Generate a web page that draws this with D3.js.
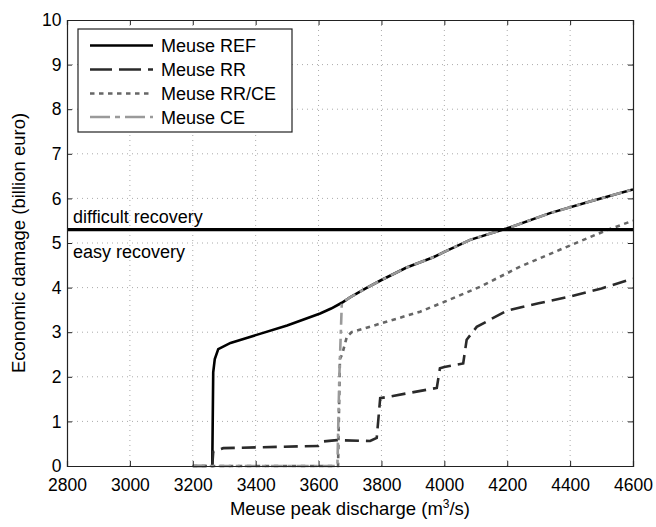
<!DOCTYPE html>
<html>
<head>
<meta charset="utf-8">
<script src="https://cdn.jsdelivr.net/npm/d3@7"></script>
<style>
  body { margin: 0; background: #fff; }
  svg { display: block; font-family: "Liberation Sans", Arial, sans-serif; }
</style>
</head>
<body>
<svg id="chart" width="656" height="527"></svg>
<script>
// Meuse damage curves.
const xTicks = [2800, 3000, 3200, 3400, 3600, 3800, 4000, 4200, 4400, 4600];
const yTicks = [0, 1, 2, 3, 4, 5, 6, 7, 8, 9, 10];

// shared upper branch of REF and CE (they coincide past ~3675)
const upperQ = [3674, 3700, 3750, 3800, 3880, 3965, 4000, 4082, 4200, 4336, 4463, 4600];
const upperD = [3.66, 3.78, 3.98, 4.17, 4.45, 4.68, 4.80, 5.07, 5.33, 5.67, 5.93, 6.2];

const refQ = [3259, 3262, 3265, 3270, 3281, 3320, 3403, 3500, 3605, 3640];
const refD = [0, 0, 2.1, 2.4, 2.62, 2.76, 2.94, 3.15, 3.42, 3.53];

const rrQ = [3200, 3262, 3265, 3297, 3599, 3614, 3658, 3764, 3785, 3796, 3820, 3976, 3986, 4000, 4060, 4071, 4103, 4198, 4300, 4400, 4500, 4600];
const rrD = [0, 0, 0.32, 0.40, 0.45, 0.55, 0.58, 0.56, 0.63, 1.52, 1.55, 1.75, 2.19, 2.22, 2.3, 2.83, 3.12, 3.48, 3.65, 3.8, 3.98, 4.2];

const rrceQ = [3200, 3662, 3668, 3675, 3690, 3705, 3800, 3923, 4000, 4114, 4241, 4378, 4517, 4600];
const rrceD = [0, 0, 2.4, 2.5, 2.9, 3.0, 3.2, 3.46, 3.68, 4.02, 4.47, 4.88, 5.29, 5.5];

const ceQ = [3200, 3660, 3666, 3674];
const ceD = [0, 0, 2.0, 3.66];

const recoveryLevel = 5.3;

const series = [
  { name: "Meuse REF", q: refQ.concat(upperQ), d: refD.concat(upperD), color: "#000", dash: null, width: 2.6 },
  { name: "Meuse RR", q: rrQ, d: rrD, color: "#2a2a2a", dash: "14,7", width: 2.6 },
  { name: "Meuse RR/CE", q: rrceQ, d: rrceD, color: "#666", dash: "4.5,4.5", width: 2.6 },
  { name: "Meuse CE", q: ceQ.concat(upperQ.slice(1)), d: ceD.concat(upperD.slice(1)), color: "#9a9a9a", dash: "12,5,4,5", width: 2.6 },
];

const svg = d3.select("#chart");
const margin = { left: 67, top: 20, right: 23, bottom: 61 };
const W = 656, H = 527;

const x = d3.scaleLinear().domain([2800, 4600]).range([margin.left, W - margin.right]);
const y = d3.scaleLinear().domain([0, 10]).range([H - margin.bottom, margin.top]);

// grid
const grid = svg.append("g").attr("stroke", "#aaa").attr("stroke-width", 1).attr("stroke-dasharray", "1,4");
grid.selectAll(".gx").data(xTicks.slice(1, -1)).join("line")
  .attr("x1", (d) => x(d)).attr("x2", (d) => x(d))
  .attr("y1", y(0)).attr("y2", y(10));
grid.selectAll(".gy").data(yTicks.slice(1, -1)).join("line")
  .attr("x1", x(2800)).attr("x2", x(4600))
  .attr("y1", (d) => y(d)).attr("y2", (d) => y(d));

// curves
const line = d3.line().x((p) => x(p[0])).y((p) => y(p[1]));
svg.append("clipPath").attr("id", "clip").append("rect")
  .attr("x", x(2800)).attr("y", y(10)).attr("width", x(4600) - x(2800)).attr("height", y(0) - y(10) + 2);

svg.append("g").attr("clip-path", "url(#clip)")
  .selectAll("path").data(series).join("path")
  .attr("fill", "none")
  .attr("stroke", (s) => s.color)
  .attr("stroke-width", (s) => s.width)
  .attr("stroke-dasharray", (s) => s.dash)
  .attr("d", (s) => line(s.q.map((q, i) => [q, s.d[i]])));

// recovery threshold
svg.append("line")
  .attr("x1", x(2800)).attr("x2", x(4600))
  .attr("y1", y(recoveryLevel)).attr("y2", y(recoveryLevel))
  .attr("stroke", "#000").attr("stroke-width", 3.2);

svg.append("text").attr("x", x(2800) + 6).attr("y", y(recoveryLevel) - 7)
  .attr("font-size", 18).text("difficult recovery");
svg.append("text").attr("x", x(2800) + 6).attr("y", y(recoveryLevel) + 28)
  .attr("font-size", 18).text("easy recovery");

// axes: matlab style box with inward ticks
const axisCol = "#222";
const tickLen = 5;
const xAxis = svg.append("g").attr("transform", `translate(0,${y(0)})`)
  .call(d3.axisBottom(x).tickValues(xTicks).tickSize(-tickLen).tickPadding(12.5).tickFormat(d3.format("d")));
const xTop = svg.append("g").attr("transform", `translate(0,${y(10)})`)
  .call(d3.axisTop(x).tickValues(xTicks).tickSize(-tickLen).tickFormat(""));
const yAxis = svg.append("g").attr("transform", `translate(${x(2800)},0)`)
  .call(d3.axisLeft(y).tickValues(yTicks).tickSize(-tickLen).tickPadding(5.5).tickFormat(d3.format("d")));
const yRight = svg.append("g").attr("transform", `translate(${x(4600)},0)`)
  .call(d3.axisRight(y).tickValues(yTicks).tickSize(-tickLen).tickFormat(""));

[xAxis, xTop, yAxis, yRight].forEach((g) => {
  g.select(".domain").attr("stroke", axisCol).attr("stroke-width", 1.2);
  g.selectAll(".tick line").attr("stroke", axisCol);
  g.selectAll(".tick text").attr("fill", "#000").attr("font-size", 17.5)
    .attr("font-family", "Liberation Sans, Arial, sans-serif");
});

// axis titles
svg.append("text")
  .attr("x", (x(2800) + x(4600)) / 2).attr("y", 515)
  .attr("text-anchor", "middle").attr("font-size", 18.5)
  .html('Meuse peak discharge (m<tspan dy="-7" font-size="12">3</tspan><tspan dy="7">/s)</tspan>');
svg.append("text")
  .attr("transform", `translate(25,${(y(0) + y(10)) / 2}) rotate(-90)`)
  .attr("text-anchor", "middle").attr("font-size", 18.5)
  .text("Economic damage (billion euro)");

// legend
const legend = svg.append("g");
legend.append("rect")
  .attr("x", 78).attr("y", 29).attr("width", 214).attr("height", 103)
  .attr("fill", "#fff").attr("stroke", axisCol).attr("stroke-width", 1.2);
const rowY = [45.5, 69.5, 93.5, 117];
const items = legend.selectAll("g.item").data(series).join("g").attr("class", "item")
  .attr("transform", (s, i) => `translate(0,${rowY[i]})`);
items.append("line")
  .attr("x1", 90).attr("x2", 153).attr("y1", 0).attr("y2", 0)
  .attr("stroke", (s) => s.color).attr("stroke-width", (s) => s.width)
  .attr("stroke-dasharray", (s) => s.name === "Meuse RR" ? "22,7" : s.name === "Meuse CE" ? "20,5,5,5" : s.dash);
items.append("text").attr("x", 161).attr("y", 6.5)
  .attr("font-size", 18).text((s) => s.name);
</script>
</body>
</html>
